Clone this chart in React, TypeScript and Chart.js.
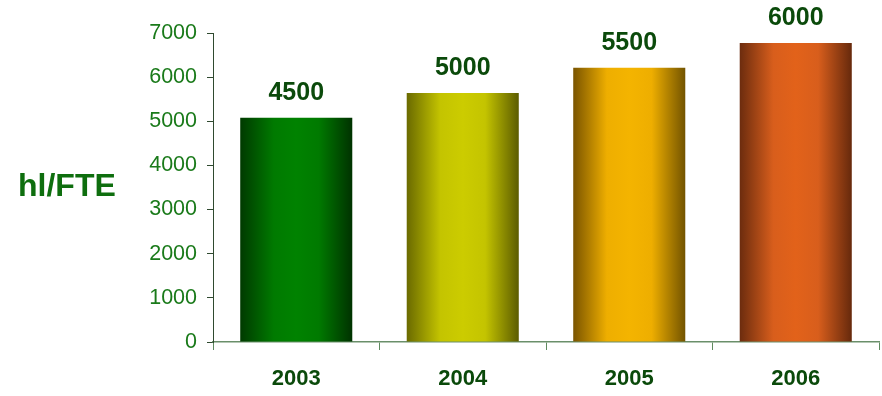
import React, { useEffect, useRef } from "react";
import { Chart, registerables } from "chart.js";

Chart.register(...registerables);

const categories = ["2003", "2004", "2005", "2006"];
const barHeights = [5080, 5640, 6210, 6775];
const valueLabels = ["4500", "5000", "5500", "6000"];
const yTicks = [0, 1000, 2000, 3000, 4000, 5000, 6000, 7000];
const axisTitle = "hl/FTE";
const gradientStops = [
  ["#003a00", "#007a00", "#008200", "#003200"],
  ["#6a6a00", "#c4c400", "#cccc00", "#5c5c00"],
  ["#7a5400", "#eeae00", "#f4b400", "#735400"],
  ["#6c2c0e", "#d85e1c", "#e2621a", "#66290c"],
];

const FONT = '"Liberation Sans", Arial, sans-serif';

export default function App() {
  const ref = useRef<HTMLCanvasElement | null>(null);

  useEffect(() => {
    if (!ref.current) return;
    const barPct = 0.673;

    const valueLabelPlugin = {
      id: "valueLabels",
      afterDatasetsDraw(chart: any) {
        const meta = chart.getDatasetMeta(0);
        const ctx = chart.ctx;
        ctx.save();
        ctx.font = `bold 25px ${FONT}`;
        ctx.fillStyle = "#0b4a0b";
        ctx.textAlign = "center";
        ctx.textBaseline = "middle";
        meta.data.forEach((bar: any, i: number) => {
          ctx.fillText(valueLabels[i], bar.x, bar.y - 25);
        });
        ctx.restore();
      },
    };

    const chart = new Chart(ref.current, {
      type: "bar",
      data: {
        labels: categories,
        datasets: [
          {
            data: barHeights,
            categoryPercentage: 1,
            barPercentage: barPct,
            borderWidth: 0,
            backgroundColor: (c: any) => {
              const ch = c.chart;
              const x = ch.scales && ch.scales.x;
              const i = c.dataIndex ?? 0;
              const stops = gradientStops[i % gradientStops.length];
              if (!x || !ch.chartArea || x.width === undefined) return stops[2];
              const cx = x.getPixelForValue(i);
              const w = (x.width / categories.length) * barPct;
              const g = ch.ctx.createLinearGradient(cx - w / 2, 0, cx + w / 2, 0);
              g.addColorStop(0, stops[0]);
              g.addColorStop(0.3, stops[1]);
              g.addColorStop(0.5, stops[2]);
              g.addColorStop(0.7, stops[1]);
              g.addColorStop(1, stops[3]);
              return g;
            },
          },
        ],
      },
      options: {
        responsive: false,
        animation: false,
        layout: { padding: { top: 33, right: 3, left: 0, bottom: 0 } },
        plugins: {
          legend: { display: false },
          tooltip: { enabled: false },
        },
        scales: {
          x: {
            grid: {
              display: true,
              drawOnChartArea: false,
              drawTicks: true,
              tickLength: 8,
              color: "#5f8a5f",
              offset: true,
            },
            border: { display: true, color: "#6a8f6a", width: 1.5 },
            ticks: {
              color: "#0b4a0b",
              font: { family: FONT, size: 22, weight: "bold" },
              padding: 16,
            },
            afterFit: (s: any) => {
              s.height = 54;
            },
          },
          y: {
            min: 0,
            max: 7000,
            afterBuildTicks: (s: any) => {
              s.ticks = yTicks.map((v) => ({ value: v }));
            },
            grid: {
              display: true,
              drawOnChartArea: false,
              drawTicks: true,
              tickLength: 6,
              color: "#2f4a2f",
            },
            border: { display: true, color: "#2f4a2f", width: 1 },
            ticks: {
              color: "#1a7a1a",
              font: { family: FONT, size: 21.5 },
              padding: 10,
              callback: (v: any) => String(v),
            },
            afterFit: (s: any) => {
              s.width = 213;
            },
          },
        },
      },
      plugins: [valueLabelPlugin],
    });
    return () => chart.destroy();
  }, []);

  return (
    <div style={{ position: "relative", width: 882, height: 396 }}>
      <style>{`body{margin:0}`}</style>
      <canvas ref={ref} width={882} height={396} style={{ display: "block" }} />
      <div
        style={{
          position: "absolute",
          left: 18,
          top: 166,
          fontFamily: FONT,
          fontWeight: "bold",
          fontSize: 32,
          color: "#0e6e0e",
          lineHeight: "38px",
          whiteSpace: "nowrap",
        }}
      >
        {axisTitle}
      </div>
    </div>
  );
}
